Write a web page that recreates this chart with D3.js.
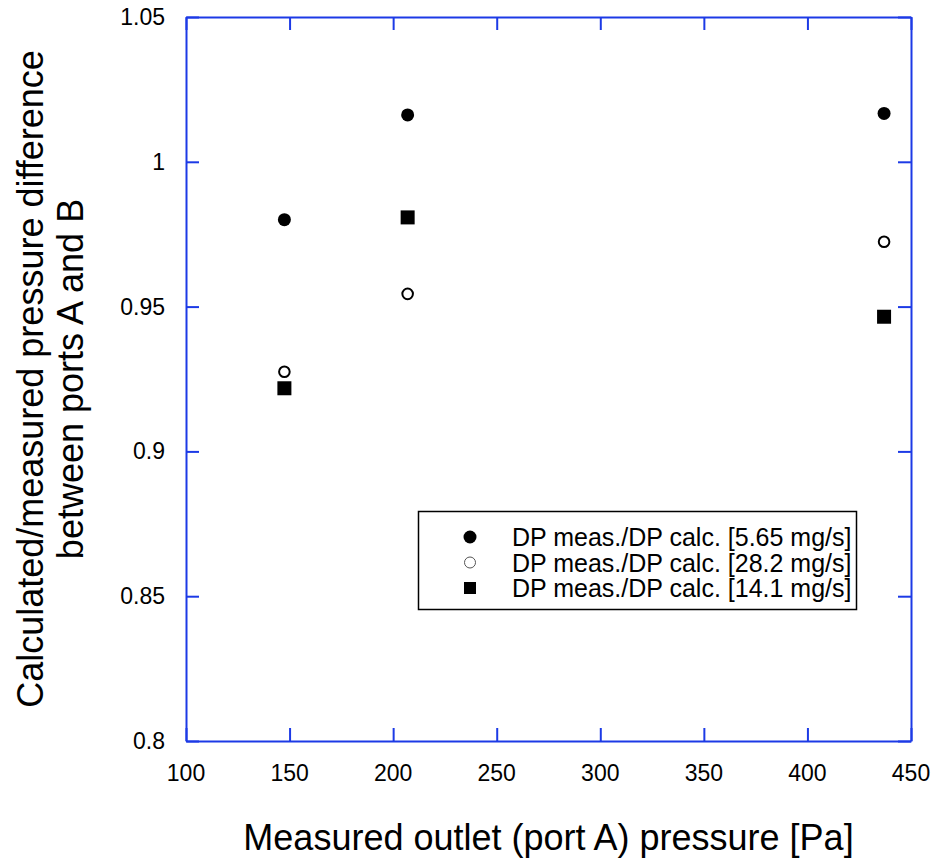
<!DOCTYPE html>
<html lang="en">
<head>
  <meta charset="UTF-8">
  <title>Pressure difference ratio</title>
  <script src="https://d3js.org/d3.v7.min.js"></script>
  <style>
    body { margin: 0; background: #fff; }
    text { font-family: "Liberation Sans", Arial, sans-serif; }
  </style>
</head>
<body>
<div id="chart"></div>
<script>
  const width = 933;
  const height = 867;
  const margin = {top: 17, right: 22, bottom: 126, left: 186};

  // measured outlet pressure [Pa]
  const pressure = [147.5, 207, 437];
  // DP meas./DP calc. per mass flow
  const flow565 = [0.980, 1.0162, 1.0167];
  const flow282 = [0.9275, 0.9544, 0.9724];
  const flow141 = [0.9218, 0.9808, 0.9465];

  const xTicks = [100, 150, 200, 250, 300, 350, 400, 450];
  const yTicks = [0.8, 0.85, 0.9, 0.95, 1, 1.05];

  const series = [
    {name: "DP meas./DP calc. [5.65 mg/s]", values: flow565, shape: "dot"},
    {name: "DP meas./DP calc. [28.2 mg/s]", values: flow282, shape: "ring"},
    {name: "DP meas./DP calc. [14.1 mg/s]", values: flow141, shape: "square"}
  ];

  const blue = "#1c3ae6";

  const svg = d3.select("#chart")
    .append("svg")
    .attr("width", width)
    .attr("height", height);

  const x = d3.scaleLinear()
    .domain([100, 450])
    .range([margin.left, width - margin.right]);

  const y = d3.scaleLinear()
    .domain([0.8, 1.05])
    .range([height - margin.bottom, margin.top]);

  const tick = 13;

  // frame with inward ticks on all sides
  const axisStyle = function(g) {
    g.selectAll("path, line").attr("stroke", blue).attr("stroke-width", 2);
    g.selectAll("text").remove();
  };

  svg.append("g")
    .attr("transform", "translate(0," + y(0.8) + ")")
    .call(d3.axisBottom(x).tickValues(xTicks).tickSizeInner(-tick).tickSizeOuter(0))
    .call(axisStyle);
  svg.append("g")
    .attr("transform", "translate(0," + y(1.05) + ")")
    .call(d3.axisTop(x).tickValues(xTicks).tickSizeInner(-tick).tickSizeOuter(0))
    .call(axisStyle);
  svg.append("g")
    .attr("transform", "translate(" + x(100) + ",0)")
    .call(d3.axisLeft(y).tickValues(yTicks).tickSizeInner(-tick).tickSizeOuter(0))
    .call(axisStyle);
  svg.append("g")
    .attr("transform", "translate(" + x(450) + ",0)")
    .call(d3.axisRight(y).tickValues(yTicks).tickSizeInner(-tick).tickSizeOuter(0))
    .call(axisStyle);

  // tick labels
  svg.selectAll(".xlab")
    .data(xTicks)
    .enter()
    .append("text")
    .attr("x", d => x(d))
    .attr("y", y(0.8) + 40)
    .attr("text-anchor", "middle")
    .style("font-size", "23px")
    .text(d => d);

  svg.selectAll(".ylab")
    .data(yTicks)
    .enter()
    .append("text")
    .attr("x", x(100) - 21)
    .attr("y", d => y(d) + 8)
    .attr("text-anchor", "end")
    .style("font-size", "23px")
    .text(d => d);

  // axis titles
  svg.append("text")
    .attr("x", (x(100) + x(450)) / 2)
    .attr("y", 850)
    .attr("text-anchor", "middle")
    .style("font-size", "36px")
    .text("Measured outlet (port A) pressure [Pa]");

  const yTitle = svg.append("text")
    .attr("transform", "translate(43," + (y(0.8) + y(1.05)) / 2 + ") rotate(-90)")
    .attr("text-anchor", "middle")
    .style("font-size", "36px");
  yTitle.append("tspan").attr("x", 0).attr("dy", 0).text("Calculated/measured pressure difference");
  yTitle.append("tspan").attr("x", 0).attr("dy", 40).text("between ports A and B");

  function drawMark(g, shape, cx, cy, small) {
    if (shape === "dot") {
      g.append("circle").attr("cx", cx).attr("cy", cy).attr("r", 6.5).attr("fill", "#000");
    } else if (shape === "ring") {
      g.append("circle").attr("cx", cx).attr("cy", cy).attr("r", small ? 5.5 : 5.3)
        .attr("fill", "#fff").attr("stroke", small ? "#555" : "#000").attr("stroke-width", small ? 1 : 2);
    } else {
      const s = small ? 12 : 14;
      g.append("rect").attr("x", cx - s / 2).attr("y", cy - s / 2).attr("width", s).attr("height", s).attr("fill", "#000");
    }
  }

  const marks = svg.append("g");
  series.forEach(function(s) {
    s.values.forEach(function(v, i) {
      drawMark(marks, s.shape, x(pressure[i]), y(v), false);
    });
  });

  // legend
  const legend = svg.append("g");
  legend.append("rect")
    .attr("x", 418.5).attr("y", 511.5)
    .attr("width", 438).attr("height", 98)
    .attr("fill", "#fff").attr("stroke", "#000").attr("stroke-width", 1.5);

  series.forEach(function(s, i) {
    const cy = 537 + i * 25.5;
    drawMark(legend, s.shape, 470, cy, true);
    legend.append("text")
      .attr("x", 512)
      .attr("y", cy + 9)
      .style("font-size", "25px")
      .text(s.name);
  });
</script>
</body>
</html>
